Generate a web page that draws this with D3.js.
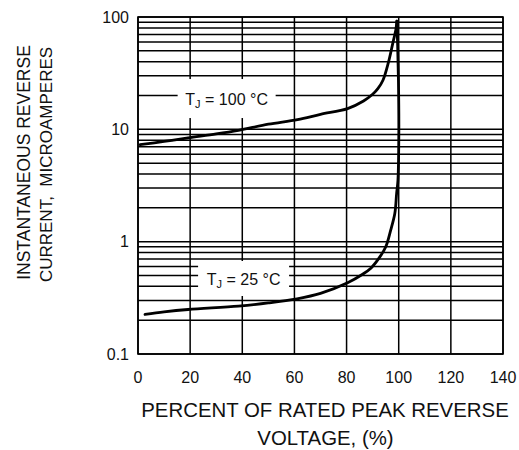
<!DOCTYPE html>
<html>
<head>
<meta charset="utf-8">
<script src="https://cdn.jsdelivr.net/npm/d3@7"></script>
<style>
  html, body { margin: 0; padding: 0; background: #fff; }
  svg { display: block; }
  text { font-family: "Liberation Sans", Arial, sans-serif; fill: #111; }
</style>
</head>
<body>
<svg id="chart" width="519" height="450"></svg>
<script>
// ---- data ----
const xTicks = [0, 20, 40, 60, 80, 100, 120, 140];
const yTicks = [0.1, 1, 10, 100];
const yTickLabels = ["0.1", "1", "10", "100"];

// T_J = 100 °C : [percent of rated voltage, current µA]
const curve100 = [
  [0.8, 7.3], [10, 7.8], [19.2, 8.4], [30, 9.1], [38.5, 9.8], [50, 11.1],
  [61.2, 12.2], [70, 13.6], [80.4, 15.3], [86.5, 17.9], [90, 20.5], [92, 23],
  [94, 27.5], [96, 39], [97.7, 58], [98.9, 77], [99.3, 92]
];
// T_J = 25 °C
const curve25 = [
  [2.7, 0.225], [10, 0.237], [19.2, 0.249], [38.5, 0.267], [50, 0.285],
  [61, 0.31], [70, 0.346], [80.4, 0.43], [86, 0.51], [89.2, 0.577], [92.3, 0.706],
  [95, 0.896], [96.9, 1.26], [98.5, 1.78], [99.2, 2.69], [99.7, 3.5],
  [100.05, 9.7], [99.9, 27], [99.6, 55], [99.3, 92]
];

const seriesLabels = [
  { main: "T", sub: "J", rest: " = 100 °C" },
  { main: "T", sub: "J", rest: " = 25 °C" }
];

// ---- layout ----
const svg = d3.select("#chart");
const plot = { left: 138, right: 503, top: 17, bottom: 354 };

const x = d3.scaleLinear().domain([0, 140]).range([plot.left, plot.right]);
const y = d3.scaleLog().domain([0.1, 100]).range([plot.bottom, plot.top]);

const grid = svg.append("g");

// horizontal grid lines (1..9 per decade)
const hLines = [];
[0.1, 1, 10].forEach(d => { for (let m = 1; m <= 9; m++) hLines.push(d * m); });
hLines.push(100);
grid.selectAll("line.h").data(hLines).join("line")
  .attr("x1", plot.left).attr("x2", plot.right)
  .attr("y1", d => y(d)).attr("y2", d => y(d))
  .attr("stroke", "#000").attr("stroke-width", 1.5);

// vertical grid lines
grid.selectAll("line.v").data(xTicks).join("line")
  .attr("x1", d => x(d)).attr("x2", d => x(d))
  .attr("y1", plot.top).attr("y2", plot.bottom)
  .attr("stroke", "#000").attr("stroke-width", 1.5);

// frame
svg.append("rect")
  .attr("x", plot.left).attr("y", plot.top)
  .attr("width", plot.right - plot.left).attr("height", plot.bottom - plot.top)
  .attr("fill", "none").attr("stroke", "#000").attr("stroke-width", 1.6);

// label boxes (white) positioned through the scales
const labelDefs = [
  { cx: 34, cy: 18.8, w: 98, h: 39, lab: seriesLabels[0] },
  { cx: 40.5, cy: 0.47, w: 91, h: 35, lab: seriesLabels[1] }
];
labelDefs.forEach(L => {
  const cx = x(L.cx), cy = y(L.cy);
  svg.append("rect")
    .attr("x", cx - L.w / 2).attr("y", cy - L.h / 2)
    .attr("width", L.w).attr("height", L.h)
    .attr("fill", "#fff");
  const t = svg.append("text")
    .attr("x", cx).attr("y", cy + 6)
    .attr("text-anchor", "middle")
    .attr("font-size", 16);
  t.append("tspan").text(L.lab.main);
  t.append("tspan").attr("font-size", 11).attr("dy", 3).text(L.lab.sub);
  t.append("tspan").attr("dy", -3).text(L.lab.rest);
});

// curves
const line = d3.line()
  .x(d => x(d[0])).y(d => y(d[1]))
  .curve(d3.curveCatmullRom.alpha(0.5));

[curve100, curve25].forEach(c => {
  svg.append("path")
    .attr("d", line(c))
    .attr("fill", "none")
    .attr("stroke", "#000")
    .attr("stroke-width", 2.8)
    .attr("stroke-linejoin", "round")
    .attr("stroke-linecap", "round");
});

// y tick labels
svg.selectAll("text.yt").data(yTicks).join("text")
  .attr("x", plot.left - 9)
  .attr("y", d => y(d))
  .attr("dy", "0.36em")
  .attr("text-anchor", "end")
  .attr("font-size", 16)
  .text((d, i) => yTickLabels[i]);

// x tick labels
svg.selectAll("text.xt").data(xTicks).join("text")
  .attr("x", d => x(d))
  .attr("y", 383)
  .attr("text-anchor", "middle")
  .attr("font-size", 16)
  .text(d => d);

// x axis title
svg.append("text")
  .attr("x", 325).attr("y", 416.5)
  .attr("text-anchor", "middle").attr("font-size", 20.4)
  .text("PERCENT OF RATED PEAK REVERSE");
svg.append("text")
  .attr("x", 325.5).attr("y", 445)
  .attr("text-anchor", "middle").attr("font-size", 20.4)
  .text("VOLTAGE, (%)");

// y axis title
svg.append("text")
  .attr("transform", "translate(30,162.5) rotate(-90)")
  .attr("text-anchor", "middle").attr("font-size", 17.5)
  .text("INSTANTANEOUS REVERSE");
svg.append("text")
  .attr("transform", "translate(52,164.5) rotate(-90)")
  .attr("text-anchor", "middle").attr("font-size", 17)
  .style("white-space", "pre")
  .text("CURRENT,  MICROAMPERES");
</script>
</body>
</html>
